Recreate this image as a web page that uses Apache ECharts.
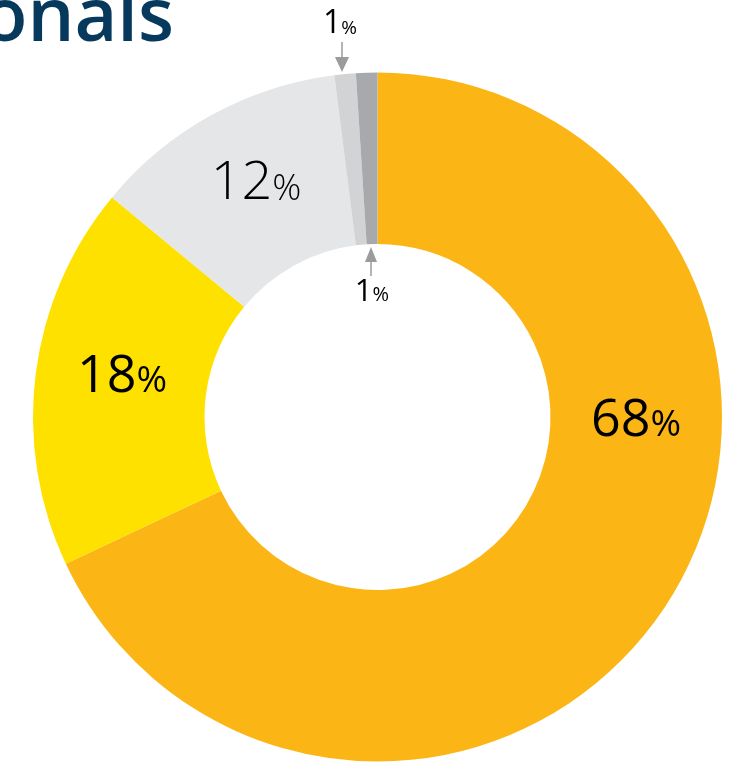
<!DOCTYPE html>
<html>
<head>
<meta charset="utf-8">
<style>
  html, body { margin: 0; padding: 0; background: #ffffff; }
  #chart { width: 735px; height: 762px; }
</style>
<script src="https://cdn.jsdelivr.net/npm/echarts@6/dist/echarts.min.js"></script>
</head>
<body>
<div id="chart"></div>
<script>
// Share of members by group (percent), clockwise from 12 o'clock
const shares = [68, 18, 12, 1, 1];
const sliceColors = ['#FBB615', '#FFE100', '#E5E6E8', '#D1D3D5', '#A7A9AC'];
const titleText = 'onals';

// Label anchor (centre x, middle y) and font sizes for each slice label
const labelSpots = [
  { x: 636, y: 421, big: 52, small: 37, weight: 400 },
  { x: 122, y: 377, big: 52, small: 37, weight: 400 },
  { x: 256, y: 184, big: 54, small: 36, weight: 300 },
  { x: 340, y: 24,  big: 32, small: 19, weight: 400 },
  { x: 372, y: 292, big: 31, small: 20, weight: 400 }
];

const FONT = '"Open Sans", "Noto Sans", sans-serif';

const chart = echarts.init(document.getElementById('chart'), null, { renderer: 'canvas' });

const data = shares.map((v, i) => {
  const s = labelSpots[i];
  return {
    value: v,
    itemStyle: { color: sliceColors[i] },
    label: {
      rich: {
        n: { fontSize: s.big, fontWeight: s.weight, fontFamily: FONT, color: '#000', verticalAlign: 'bottom', lineHeight: s.big },
        p: { fontSize: s.small, fontWeight: s.weight, fontFamily: FONT, color: '#000', verticalAlign: 'bottom', lineHeight: s.big, padding: [0, 0, Math.round(s.big * 0.05), 0] }
      }
    }
  };
});

const arrowColor = '#9B9B9B';

chart.setOption({
  animation: false,
  backgroundColor: '#ffffff',
  series: [{
    type: 'pie',
    center: [377.5, 417],
    radius: [173, 344.5],
    startAngle: 90,
    clockwise: true,
    silent: true,
    avoidLabelOverlap: false,
    data: data,
    label: {
      show: true,
      position: 'inside',
      formatter: p => '{n|' + p.value + '}{p|%}'
    },
    labelLine: { show: false },
    labelLayout: function (params) {
      const s = labelSpots[params.dataIndex];
      return { x: s.x, y: s.y, align: 'center', verticalAlign: 'middle', hideOverlap: false, moveOverlap: null };
    },
    emphasis: { disabled: true }
  }],
  graphic: [
    {
      type: 'text',
      style: {
        x: 174, y: 57,
        text: titleText,
        align: 'right',
        verticalAlign: 'bottom',
        font: '600 74px "Open Sans", "Noto Sans", sans-serif',
        fill: '#06395C'
      }
    },
    // arrow pointing down to the small top slice
    { type: 'line', shape: { x1: 342, y1: 42, x2: 342, y2: 58 }, style: { stroke: arrowColor, lineWidth: 1.5 } },
    { type: 'polygon', shape: { points: [[335, 57], [349, 57], [342, 72]] }, style: { fill: arrowColor } },
    // arrow pointing up to the other small slice
    { type: 'line', shape: { x1: 371, y1: 261, x2: 371, y2: 276 }, style: { stroke: arrowColor, lineWidth: 1.5 } },
    { type: 'polygon', shape: { points: [[365, 262], [377, 262], [371, 247]] }, style: { fill: arrowColor } }
  ]
});
</script>
</body>
</html>
